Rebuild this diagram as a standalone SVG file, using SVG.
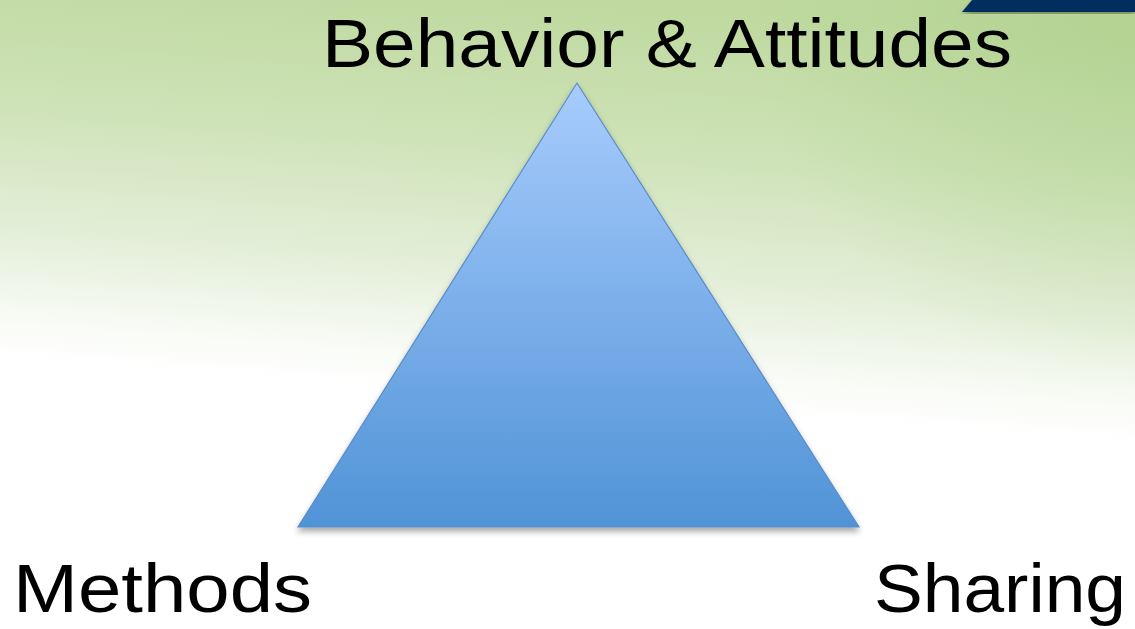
<svg xmlns="http://www.w3.org/2000/svg" width="1135" height="629" viewBox="0 0 1135 629">
  <defs>
    <linearGradient id="bg" gradientUnits="userSpaceOnUse" x1="600" y1="0" x2="570" y2="400">
      <stop offset="0" stop-color="#bfd99f"/>
      <stop offset="0.35" stop-color="#cde2b6"/>
      <stop offset="0.7" stop-color="#e5efda"/>
      <stop offset="0.9" stop-color="#f8fbf5"/>
      <stop offset="1" stop-color="#ffffff"/>
    </linearGradient>
    <radialGradient id="bgTint" gradientUnits="userSpaceOnUse" cx="1135" cy="0" r="380">
      <stop offset="0" stop-color="#a8cd86" stop-opacity="0.5"/>
      <stop offset="1" stop-color="#a8cd86" stop-opacity="0"/>
    </radialGradient>
    <linearGradient id="triFill" x1="0" y1="0" x2="0" y2="1">
      <stop offset="0" stop-color="#a8ccfd"/>
      <stop offset="1" stop-color="#5093d7"/>
    </linearGradient>
    <filter id="shadow" x="-10%" y="-10%" width="120%" height="125%">
      <feDropShadow dx="0" dy="4" stdDeviation="3" flood-color="#000" flood-opacity="0.35"/>
    </filter>
    <style>
      .label { font-family: "Liberation Sans", Arial, sans-serif; font-size: 69px; fill: #000; }
    </style>
  </defs>

  <!-- backdrop -->
  <rect x="0" y="0" width="1135" height="629" fill="url(#bg)"/>
  <rect x="0" y="0" width="1135" height="629" fill="url(#bgTint)"/>

  <!-- navy band at the top right -->
  <polygon points="962,12 972,0 1135,0 1135,12" fill="#002d5e" filter="url(#shadow)"/>

  <!-- triangle -->
  <g id="triangle">
    <polygon points="577,83 859,527 298,527" fill="url(#triFill)" stroke="#5a8cc8" stroke-width="1.2" stroke-linejoin="miter" filter="url(#shadow)"/>
  </g>

  <g id="connectors"/>

  <!-- corner labels -->
  <g id="node-behavior">
    <text class="label" x="322" y="67" textLength="690" lengthAdjust="spacingAndGlyphs">Behavior &amp; Attitudes</text>
  </g>
  <g id="node-methods">
    <text class="label" x="13" y="612" textLength="299" lengthAdjust="spacingAndGlyphs">Methods</text>
  </g>
  <g id="node-sharing">
    <text class="label" x="874" y="612" textLength="252" lengthAdjust="spacingAndGlyphs">Sharing</text>
  </g>
</svg>
